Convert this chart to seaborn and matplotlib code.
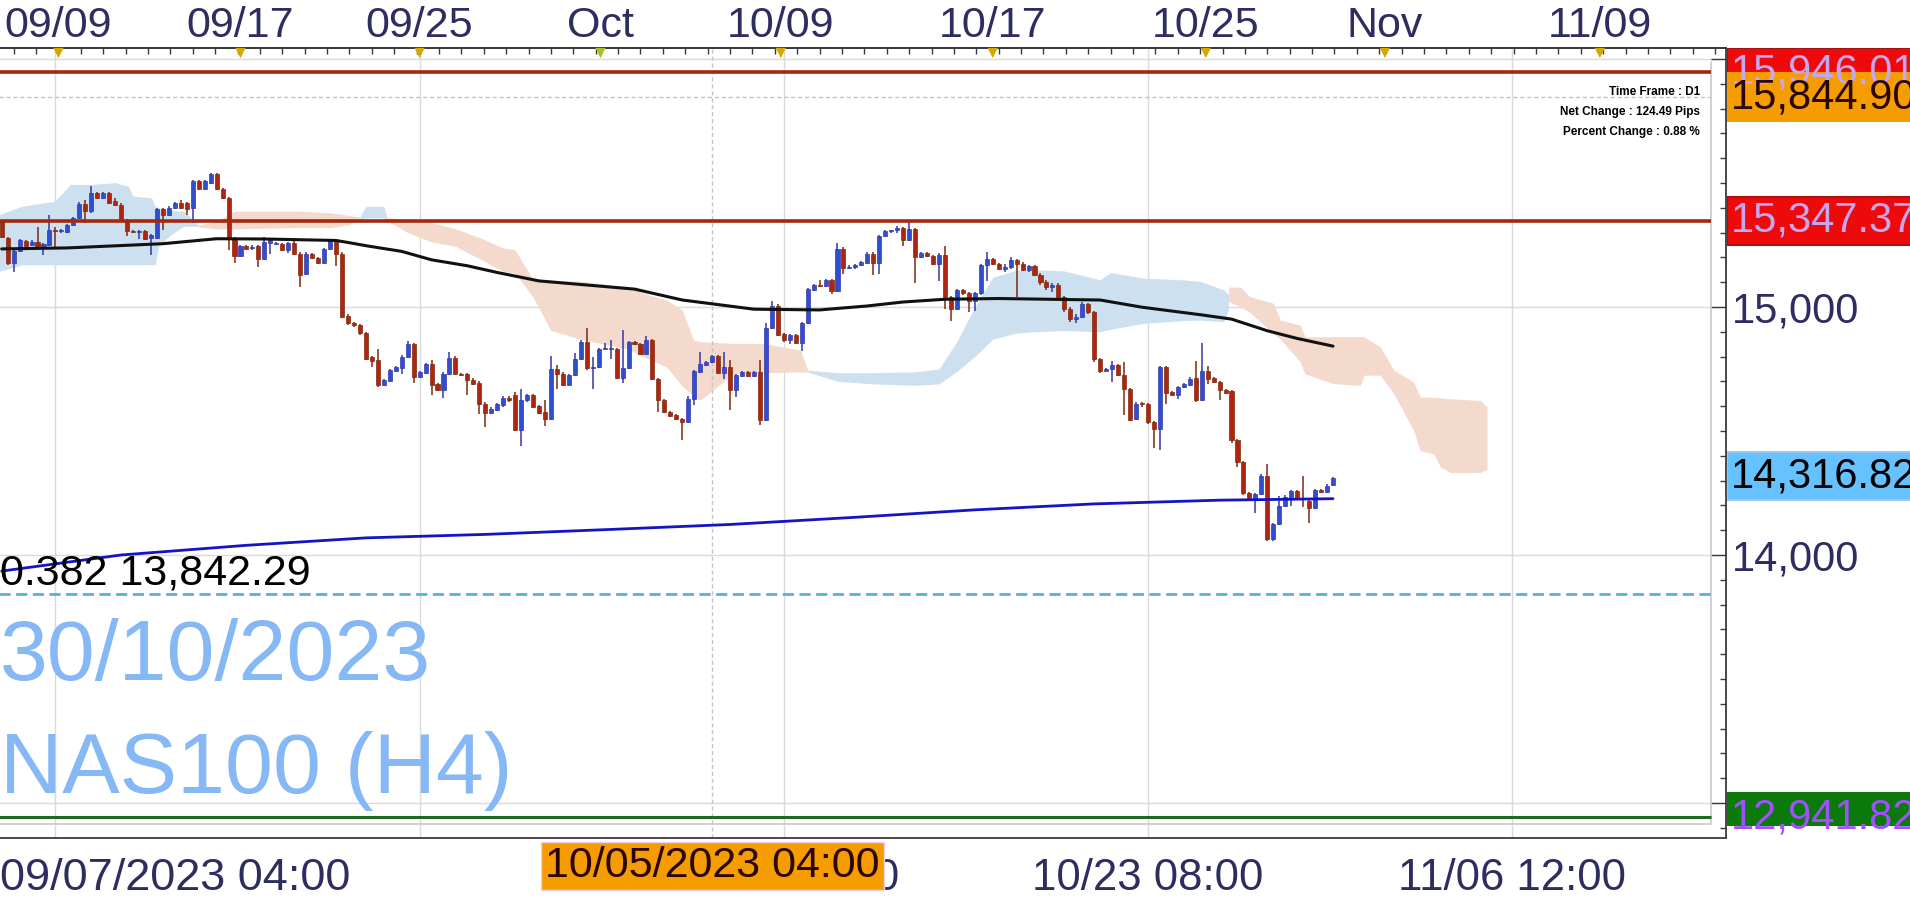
import matplotlib
matplotlib.use("Agg")
import matplotlib.pyplot as plt
import matplotlib.transforms as mtransforms
from matplotlib.patches import Rectangle
from matplotlib.ticker import FixedLocator, FixedFormatter
import numpy as np
import pandas as pd
import seaborn as sns

# ---- H4 candles (index 0 = first visible bar) ----
opens = [
    15345, 15278, 15177, 15224, 15264, 15250, 15262, 15245, 15251, 15312,
    15305, 15303, 15332, 15359, 15417, 15386, 15460, 15440, 15460, 15426,
    15413, 15352, 15305, 15303, 15305, 15278, 15280, 15393, 15370, 15400,
    15420, 15420, 15398, 15507, 15476, 15500, 15534, 15474, 15440, 15278,
    15207, 15244, 15236, 15244, 15193, 15258, 15254, 15254, 15231, 15258,
    15215, 15132, 15213, 15197, 15177, 15233, 15264, 15215, 14963, 14936,
    14927, 14893, 14799, 14785, 14684, 14702, 14742, 14755, 14799, 14850,
    14718, 14735, 14769, 14690, 14666, 14731, 14796, 14730, 14728, 14707,
    14695, 14610, 14572, 14585, 14603, 14634, 14644, 14505, 14624, 14644,
    14599, 14576, 14549, 14748, 14731, 14687, 14725, 14792, 14857, 14752,
    14758, 14830, 14830, 14830, 14714, 14752, 14857, 14850, 14812, 14866,
    14711, 14624, 14576, 14563, 14549, 14536, 14630, 14738, 14765, 14779,
    14803, 14734, 14758, 14667, 14721, 14738, 14722, 14736, 14545, 14914,
    15004, 14890, 14866, 14887, 14856, 14934, 15069, 15088, 15086, 15107,
    15066, 15235, 15157, 15160, 15168, 15177, 15215, 15177, 15287, 15305,
    15309, 15318, 15271, 15314, 15201, 15217, 15204, 15174, 15211, 15042,
    14991, 15069, 15055, 15026, 15055, 15170, 15193, 15174, 15153, 15160,
    15190, 15175, 15150, 15165, 15130, 15100, 15080, 15090, 15040, 14990,
    14950, 14960, 15010, 14980, 14790, 14742, 14748, 14765, 14725, 14671,
    14549, 14610, 14607, 14536, 14509, 14758, 14657, 14644, 14677, 14684,
    14714, 14626, 14741, 14714, 14698, 14667, 14660, 14462, 14374, 14248,
    14225, 14246, 14320, 14064, 14124, 14198, 14235, 14256, 14230, 14219,
    14189, 14262, 14252, 14283,
]
highs = [
    15350, 15282, 15228, 15272, 15270, 15268, 15322, 15256, 15372, 15322,
    15315, 15336, 15362, 15422, 15433, 15487, 15465, 15465, 15465, 15440,
    15418, 15356, 15310, 15312, 15310, 15295, 15400, 15398, 15405, 15425,
    15430, 15425, 15512, 15512, 15512, 15540, 15540, 15478, 15445, 15282,
    15250, 15250, 15248, 15250, 15282, 15275, 15262, 15258, 15262, 15264,
    15220, 15220, 15218, 15200, 15238, 15275, 15270, 15220, 14972, 14940,
    14932, 14898, 14803, 14830, 14708, 14750, 14763, 14805, 14864, 14855,
    14742, 14775, 14788, 14695, 14736, 14819, 14802, 14735, 14733, 14712,
    14700, 14615, 14595, 14612, 14640, 14640, 14657, 14671, 14650, 14650,
    14604, 14624, 14802, 14765, 14736, 14730, 14815, 14865, 14914, 14798,
    14835, 14856, 14866, 14835, 14907, 14862, 14862, 14855, 14883, 14870,
    14715, 14628, 14580, 14567, 14553, 14640, 14745, 14819, 14783, 14808,
    14808, 14819, 14788, 14730, 14742, 14742, 14742, 14785, 14937, 15026,
    15010, 14895, 14892, 14892, 14940, 15078, 15094, 15110, 15112, 15112,
    15258, 15240, 15168, 15173, 15185, 15220, 15220, 15292, 15310, 15312,
    15328, 15322, 15341, 15318, 15222, 15222, 15208, 15216, 15244, 15046,
    15074, 15074, 15060, 15060, 15175, 15220, 15198, 15178, 15175, 15200,
    15195, 15180, 15170, 15170, 15135, 15110, 15095, 15095, 15045, 15000,
    14970, 15020, 15015, 14985, 14795, 14752, 14781, 14770, 14779, 14675,
    14615, 14616, 14612, 14540, 14762, 14762, 14662, 14680, 14695, 14716,
    14781, 14853, 14762, 14718, 14702, 14671, 14664, 14466, 14378, 14252,
    14250, 14325, 14367, 14128, 14239, 14240, 14261, 14260, 14320, 14224,
    14266, 14266, 14285, 14316,
]
lows = [
    15278, 15170, 15139, 15220, 15240, 15245, 15240, 15210, 15245, 15240,
    15298, 15298, 15328, 15355, 15339, 15380, 15435, 15435, 15415, 15408,
    15345, 15285, 15298, 15274, 15268, 15210, 15275, 15312, 15365, 15395,
    15395, 15372, 15339, 15470, 15470, 15495, 15470, 15436, 15231, 15177,
    15200, 15230, 15230, 15163, 15188, 15215, 15250, 15226, 15217, 15210,
    15082, 15128, 15192, 15172, 15172, 15228, 15166, 14955, 14928, 14920,
    14888, 14785, 14758, 14678, 14680, 14698, 14738, 14731, 14795, 14693,
    14712, 14730, 14644, 14660, 14634, 14726, 14726, 14720, 14644, 14686,
    14569, 14515, 14568, 14580, 14598, 14618, 14500, 14441, 14618, 14592,
    14568, 14522, 14545, 14671, 14682, 14682, 14720, 14788, 14745, 14671,
    14752, 14826, 14792, 14708, 14694, 14748, 14846, 14808, 14808, 14706,
    14576, 14572, 14555, 14545, 14462, 14532, 14603, 14734, 14760, 14775,
    14730, 14711, 14583, 14637, 14716, 14718, 14718, 14526, 14540, 14910,
    14882, 14860, 14850, 14850, 14823, 14930, 15064, 15080, 15082, 15051,
    15060, 15134, 15152, 15155, 15164, 15172, 15130, 15134, 15282, 15300,
    15298, 15244, 15266, 15096, 15196, 15200, 15170, 15103, 14991, 14945,
    14986, 15050, 14981, 14985, 15050, 15103, 15170, 15148, 15140, 15155,
    15040, 15145, 15140, 15125, 15090, 15070, 15060, 15030, 14980, 14940,
    14935, 14955, 14970, 14780, 14735, 14738, 14698, 14720, 14563, 14540,
    14545, 14597, 14530, 14432, 14424, 14610, 14640, 14630, 14673, 14680,
    14617, 14620, 14691, 14694, 14626, 14648, 14451, 14354, 14243, 14225,
    14171, 14242, 14058, 14058, 14120, 14194, 14198, 14220, 14192, 14127,
    14185, 14248, 14248, 14280,
]
closes = [
    15282, 15177, 15224, 15268, 15246, 15262, 15245, 15252, 15312, 15305,
    15308, 15332, 15359, 15417, 15386, 15460, 15440, 15460, 15420, 15413,
    15352, 15305, 15303, 15306, 15274, 15290, 15395, 15370, 15400, 15420,
    15400, 15396, 15507, 15474, 15507, 15534, 15474, 15440, 15278, 15207,
    15244, 15235, 15242, 15193, 15260, 15268, 15256, 15231, 15258, 15215,
    15130, 15215, 15197, 15177, 15233, 15268, 15215, 14961, 14934, 14927,
    14893, 14792, 14783, 14684, 14704, 14745, 14758, 14799, 14850, 14718,
    14738, 14769, 14684, 14666, 14731, 14796, 14731, 14725, 14707, 14691,
    14610, 14572, 14590, 14607, 14634, 14624, 14505, 14624, 14644, 14597,
    14572, 14549, 14748, 14731, 14687, 14725, 14792, 14860, 14752, 14758,
    14830, 14833, 14831, 14714, 14752, 14857, 14850, 14812, 14866, 14711,
    14624, 14576, 14559, 14549, 14536, 14630, 14741, 14769, 14779, 14803,
    14734, 14758, 14667, 14725, 14738, 14722, 14738, 14543, 14914, 15004,
    14887, 14866, 14887, 14856, 14934, 15072, 15089, 15085, 15107, 15066,
    15235, 15157, 15163, 15168, 15180, 15215, 15177, 15287, 15305, 15308,
    15318, 15271, 15314, 15201, 15217, 15205, 15174, 15211, 15042, 14991,
    15069, 15055, 15026, 15055, 15170, 15193, 15174, 15153, 15160, 15190,
    15175, 15150, 15165, 15130, 15100, 15080, 15090, 15040, 14990, 14950,
    14960, 15010, 14980, 14790, 14742, 14748, 14765, 14725, 14671, 14545,
    14610, 14608, 14536, 14509, 14758, 14653, 14644, 14677, 14691, 14711,
    14626, 14741, 14711, 14698, 14664, 14653, 14462, 14374, 14248, 14230,
    14246, 14320, 14064, 14124, 14198, 14235, 14256, 14225, 14226, 14189,
    14262, 14252, 14279, 14310,
]

# ---- moving averages (bar index, price) ----
ma_fast_idx = [0, 11, 27, 36, 44, 56, 58, 61, 67, 72, 78, 83, 90, 106, 114, 126,
               137, 145, 151, 158, 167, 184, 191, 201, 206, 212, 217, 223]
ma_fast = [15234, 15238, 15255, 15275, 15274, 15268, 15260, 15247, 15224, 15190,
           15166, 15139, 15105, 15072, 15028, 14991, 14988, 15004, 15020, 15031,
           15034, 15028, 14999, 14968, 14951, 14904, 14873, 14842]
ma_slow_idx = [0, 20, 41, 61, 81, 102, 122, 143, 163, 183, 204, 223]
ma_slow = [13935, 14000, 14039, 14069, 14083, 14103, 14123, 14152, 14182, 14206,
           14221, 14227]

# ---- ichimoku cloud pieces (bar index, upper, lower) ----
blue1_idx = [-0.5, 3.4, 8.9, 11.5, 15, 19, 21.2, 22, 25.1, 25.7, 26.3, 28, 30, 30.7, 33]
blue1_top = [15372, 15406, 15426, 15494, 15494, 15501, 15487, 15447, 15440, 15406,
             15400, 15392, 15386, 15384, 15330]
blue1_bot = [15143, 15170, 15170, 15170, 15170, 15170, 15170, 15170, 15170, 15170,
             15244, 15285, 15318, 15325, 15325]
salmon1_idx = [33, 36, 39, 45, 50, 55, 58, 60]
salmon1_top = [15330, 15345, 15386, 15386, 15386, 15380, 15370, 15362]
salmon1_bot = [15322, 15315, 15315, 15318, 15320, 15320, 15330, 15355]
blue2_idx = [60, 61, 64, 64.5]
blue2_top = [15362, 15406, 15406, 15362]
blue2_bot = [15355, 15359, 15359, 15360]
salmon2_idx = [64, 68, 72, 76, 80, 84, 86, 89, 92, 97.5, 105, 107.5, 111.4, 114,
               115.9, 117, 122.6, 127.6, 133.8, 135]
salmon2_top = [15362, 15352, 15340, 15315, 15280, 15238, 15230, 15110, 15108, 15103,
               15080, 15055, 15028, 14988, 14866, 14860, 14853, 14853, 14826, 14745]
salmon2_bot = [15355, 15300, 15262, 15245, 15195, 15143, 15136, 15040, 14905, 14866,
               14830, 14799, 14758, 14680, 14640, 14624, 14731, 14735, 14738, 14738]
blue3_idx = [135, 140, 146, 152.8, 157, 160, 163, 166, 170, 173, 178, 184,
             185.7, 191.3, 198, 200.8, 204.7, 205.5]
blue3_top = [14745, 14735, 14735, 14738, 14750, 14860, 15000, 15120, 15148, 15150,
             15145, 15109, 15139, 15116, 15109, 15103, 15069, 15050]
blue3_bot = [14738, 14700, 14690, 14684, 14690, 14740, 14800, 14870, 14895, 14900,
             14905, 14900, 14910, 14934, 14945, 14947, 14941, 14990]
salmon3_idx = [205.5, 207.5, 209, 213, 214.2, 215.3, 217.5, 218.3, 223, 227.6, 228.2,
               230.9, 233.2, 236.5, 237.6, 239.9, 241, 242.7, 247.7, 248.8]
salmon3_top = [15080, 15080, 15042, 15015, 14947, 14940, 14927, 14880, 14880, 14880,
               14880, 14839, 14745, 14698, 14637, 14635, 14633, 14630, 14623, 14596]
salmon3_bot = [15022, 15001, 14980, 14893, 14870, 14839, 14779, 14730, 14691, 14684,
               14725, 14725, 14650, 14502, 14421, 14408, 14354, 14333, 14333, 14345]

# ---- levels and labels ----
resistance_levels = [15946.01, 15347.37]
support_level = 12941.82
fib_level = 13842.29
cursor_price = 15844.90
cursor_bar = 119
last_price = 14316.82
top_tick_pos = [9.5, 40, 70, 100.3, 130.5, 166, 201.7, 231.7, 267.7]
top_tick_labels = ["09/09", "09/17", "09/25", "Oct", "10/09", "10/17", "10/25", "Nov", "11/09"]
bottom_tick_pos = [9, 70, 131, 192, 253]
bottom_labels = {131: "10/09 04:00", 192: "10/23 08:00", 253: "11/06 12:00"}
info_lines = ["Time Frame : D1", "Net Change : 124.49 Pips", "Percent Change : 0.88 %"]

sns.set_theme(style="white")
plt.rcParams["font.family"] = ["Liberation Sans", "DejaVu Sans"]

NAVY = "#2d2d60"
BULL, BULL_EDGE = "#2f4fd0", "#3636a8"
BEAR, BEAR_EDGE = "#b02410", "#7c2a0c"
CLOUD_BLUE, CLOUD_SALMON = "#cde0f0", "#f3dacc"

fig = plt.figure(figsize=(19.1, 9.09), dpi=100)
ax = fig.add_axes([0, 71 / 909, 1726 / 1910, 790 / 909])
ax.set_xlim(-0.285, 288.83)
ax.set_ylim(12859, 16044)
x_inner = 286.3

# cloud
for idx, top, bot, col in [
    (blue1_idx, blue1_top, blue1_bot, CLOUD_BLUE),
    (salmon1_idx, salmon1_top, salmon1_bot, CLOUD_SALMON),
    (blue2_idx, blue2_top, blue2_bot, CLOUD_BLUE),
    (salmon2_idx, salmon2_top, salmon2_bot, CLOUD_SALMON),
    (blue3_idx, blue3_top, blue3_bot, CLOUD_BLUE),
    (salmon3_idx, salmon3_top, salmon3_bot, CLOUD_SALMON),
]:
    ax.fill_between(idx, top, bot, color=col, lw=0, zorder=1)

# candles
candles = pd.DataFrame({"open": opens, "high": highs, "low": lows, "close": closes})
candles["idx"] = np.arange(len(candles))
rising = candles["close"] >= candles["open"]
for up, fc, ec in [(True, BULL, BULL_EDGE), (False, BEAR, BEAR_EDGE)]:
    sub = candles[rising == up]
    ax.vlines(sub["idx"], sub["low"], sub["high"], color=ec, lw=1.1, zorder=4)
    body = (sub["close"] - sub["open"]).abs().clip(lower=4)
    ax.bar(sub["idx"], body, bottom=sub[["open", "close"]].min(axis=1), width=0.68,
           color=fc, edgecolor=ec, lw=0.5, zorder=4.2)

# moving averages
sns.lineplot(x=ma_fast_idx, y=ma_fast, ax=ax, color="#111111", lw=2.2, zorder=5)
sns.lineplot(x=ma_slow_idx, y=ma_slow, ax=ax, color="#1414c4", lw=2.0, zorder=5)

# horizontal levels
ax.hlines(resistance_levels, -1, x_inner, color="#a3280c", lw=2.6, zorder=4.5)
ax.hlines(support_level, -1, x_inner, color="#1d6b1d", lw=2.2, zorder=4.5)
ax.hlines(fib_level, -1, x_inner, color="#5ab0dc", lw=2.0, ls=(0, (4, 2)), zorder=4.5)
ax.hlines(cursor_price, -1, x_inner, color="#c4c4c4", lw=1.0, ls=(0, (3, 2)), zorder=2)
ax.axvline(cursor_bar, color="#c4c4c4", lw=1.0, ls=(0, (3, 2)), zorder=2)

# grid + inner frame
ax.set_axisbelow(True)
ax.xaxis.set_major_locator(FixedLocator(bottom_tick_pos))
ax.xaxis.set_minor_locator(FixedLocator(np.arange(9 - 7.625, 289, 7.625)))
ax.yaxis.set_major_locator(FixedLocator([13000, 14000, 15000, 16000]))
ax.yaxis.set_major_formatter(FixedFormatter(["", "14,000", "15,000", ""]))
ax.yaxis.set_minor_locator(FixedLocator(np.arange(12900, 16050, 100)))
ax.grid(True, which="major", color="#dadada", lw=1)
ax.plot([0, 0.9913, 0.9913], [0.0177, 0.0177, 0.982], transform=ax.transAxes,
        color="#c8c8d2", lw=1.2, zorder=2)
ax.set_xlabel("")
ax.set_ylabel("")

for side in ["top", "right", "bottom"]:
    ax.spines[side].set_color("#3a3a3a")
    ax.spines[side].set_linewidth(1.3)
ax.spines["left"].set_visible(False)

ax.yaxis.tick_right()
ax.tick_params(axis="y", which="major", direction="in", length=11, width=1,
               color="#3a3a3a", labelsize=30, labelcolor=NAVY, pad=4)
ax.tick_params(axis="y", which="minor", direction="in", length=4.5, width=1, color="#3a3a3a")
ax.tick_params(axis="x", which="major", direction="in", length=9, width=1,
               color="#3a3a3a", labelbottom=False)
ax.tick_params(axis="x", which="minor", direction="in", length=4, width=1, color="#3a3a3a")

# top date axis
sec = ax.secondary_xaxis("top")
sec.set_xticks(top_tick_pos, labels=top_tick_labels)
sec.xaxis.set_minor_locator(FixedLocator(np.arange(9.5 - 7.5, 289, 3.75)))
sec.tick_params(axis="x", which="major", direction="in", length=0, pad=1.5,
                labelsize=31, labelcolor=NAVY)
sec.tick_params(axis="x", which="minor", direction="in", length=4, width=1, color="#3a3a3a")
sec.spines["top"].set_color("#3a3a3a")
tri_tf = mtransforms.blended_transform_factory(ax.transData, ax.transAxes)
tri_colors = ["#d4a800"] * len(top_tick_pos)
tri_colors[3] = "#a8c020"
ax.scatter(top_tick_pos, [1 - 5 / 790] * len(top_tick_pos), transform=tri_tf, marker="v",
           s=55, c=tri_colors, lw=0, clip_on=False, zorder=6)

# bottom date labels
bot_tf = mtransforms.blended_transform_factory(ax.transData, fig.transFigure)
fig.text(0, 1 - 879 / 909, "09/07/2023 04:00", ha="left", va="center", fontsize=32.5,
         color=NAVY)
for pos, lab in bottom_labels.items():
    ax.text(pos, 1 - 879 / 909, lab, transform=bot_tf, ha="center", va="center",
            fontsize=31.5, color=NAVY, clip_on=False)
ax.text(cursor_bar, 1 - 866 / 909, "10/05/2023 04:00", transform=bot_tf, ha="center",
        va="center", fontsize=31, color="#2a0505", clip_on=False, zorder=10,
        bbox=dict(boxstyle="square,pad=0.1", fc="#f59d00", ec="#f3d0ea", lw=1))

# fib label and watermark
fig.text(0, 1 - 585 / 909, "0.382 13,842.29", ha="left", va="baseline", fontsize=31,
         color="black")
fig.text(0, 1 - 680 / 909, "30/10/2023", ha="left", va="baseline", fontsize=62,
         color="#86b8f5")
fig.text(0, 1 - 793 / 909, "NAS100 (H4)", ha="left", va="baseline", fontsize=62,
         color="#86b8f5")

# info block
for k, line in enumerate(info_lines):
    fig.text(1700 / 1910, 1 - (92 + 20 * k) / 909, line, ha="right", va="center",
             fontsize=8.5, fontweight="bold", color="black")

# price tags on the right
ax_r = fig.add_axes([1727 / 1910, 83 / 909, 183 / 1910, 778 / 909])
ax_r.set_xlim(0, 1)
ax_r.set_ylim(12907, 16044)
ax_r.axis("off")
half = 96.8
tags = [
    (resistance_levels[0], "#ee0a0a", "#a01414", "#c6a6ee"),
    (cursor_price, "#f59d00", "#f59d00", "#2a0505"),
    (resistance_levels[1], "#ee0a0a", "#a01414", "#c6a6ee"),
    (last_price, "#66c2ff", "#9cc8f8", "#000000"),
    (support_level, "#0b7a0b", "#0b7a0b", "#a050ff"),
]
for val, fc, ec, tc in tags:
    ax_r.add_patch(Rectangle((0, val - half), 1.2, 2 * half, fc=fc, ec=ec, lw=1.5, zorder=3))
    ax_r.text(0.02, val, f"{val:,.2f}", ha="left", va="center", fontsize=30, color=tc,
              zorder=4, clip_on=False)

fig.savefig("out.png", dpi=100)
